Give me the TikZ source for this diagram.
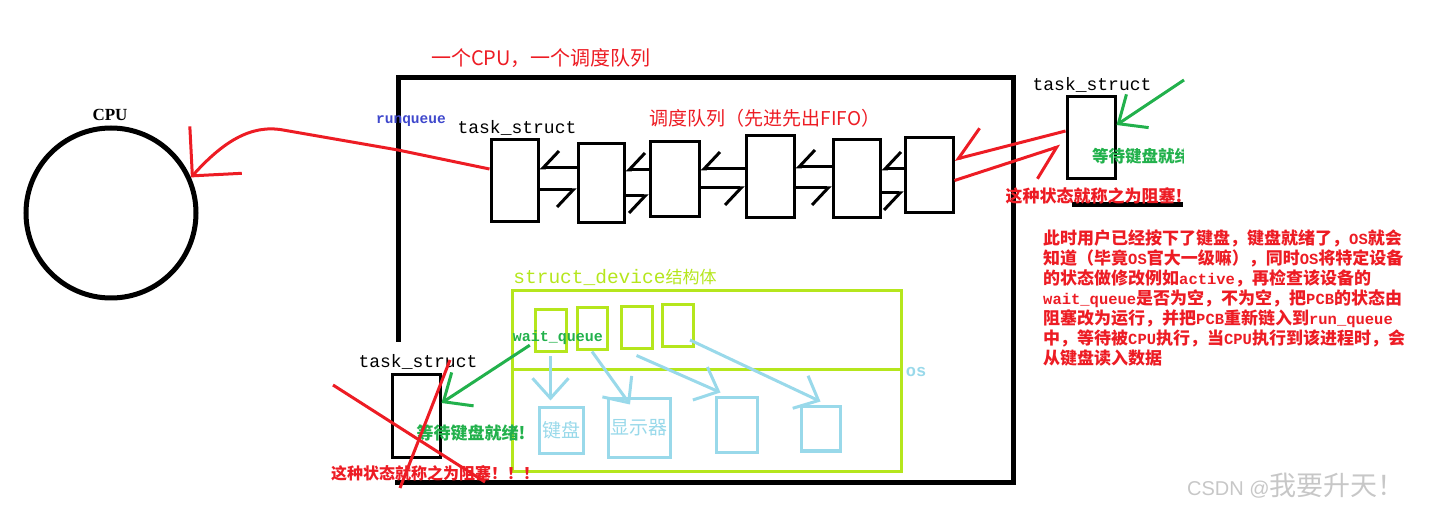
\documentclass[tikz,border=0pt]{standalone}
\usepackage{fontspec}
\setmainfont{Liberation Serif}
\setmonofont{Liberation Mono}
\newfontfamily\cjk{Noto Sans CJK SC}
\newfontfamily\wmfont{Liberation Sans}
\usetikzlibrary{arrows.meta}
\definecolor{paintred}{RGB}{237,28,36}
\definecolor{paintgreen}{RGB}{34,177,76}
\definecolor{paintblue}{RGB}{63,72,204}
\definecolor{paintlime}{RGB}{181,230,29}
\definecolor{paintcyan}{RGB}{153,217,234}
\newcommand{\lat}[1]{{\ttfamily\bfseries\fontsize{15.5}{20}\selectfont #1}}

\begin{document}
\begin{tikzpicture}[x=1pt, y=-1pt,
  task/.style={draw, line width=3pt, inner sep=0pt},
  devbox/.style={draw=paintlime, line width=3pt, inner sep=0pt},
  hwbox/.style={draw=paintcyan, line width=3pt, inner sep=0pt, text=paintcyan,
    font=\cjk\fontsize{19}{19}\selectfont},
  link/.style={line width=3pt, -{Straight Barb[harpoon,swap,length=16pt,width=34pt]}},
  redline/.style={paintred, line width=3pt},
  redhalf/.style={redline, -{Straight Barb[harpoon,swap,length=28pt,width=48pt]}},
  greenarrow/.style={paintgreen, line width=3pt, -{Straight Barb[length=23pt,width=40pt]}},
  cyanarrow/.style={paintcyan, line width=3pt, -{Straight Barb[length=20pt,width=36pt]}},
  tasklabel/.style={inner sep=0pt, font=\ttfamily\fontsize{18}{18}\selectfont}]

  \useasboundingbox (0,0) rectangle (1430,510);

  % CPU
  \node[circle, draw, line width=5pt, minimum size=170pt] (cpu) at (111,213) {};
  \node[inner sep=0pt, font=\bfseries\fontsize{17}{17}\selectfont] (cpulbl) at (110,115) {CPU};

  % one run queue per CPU
  \node[inner sep=0pt, text=paintred, font=\cjk\fontsize{20}{20}\selectfont] (title)
    at (541,58) {一个CPU，一个调度队列};
  \draw[line width=5pt] (398,342) -- (398,78) -- (1013,78) -- (1013,482) -- (395,482);
  \node[inner sep=0pt, text=paintblue, font=\ttfamily\bfseries\fontsize{14.5}{14.5}\selectfont]
    (rq) at (411,121) {runqueue};
  \node[inner sep=0pt, text=paintred, font=\cjk\fontsize{19}{19}\selectfont] (fifo)
    at (765,118) {调度队列（先进先出FIFO）};

  % queued task_structs
  \node[task, minimum width=47pt, minimum height=82pt] (q1) at (514.5,181) {};
  \node[task, minimum width=46pt, minimum height=79pt] (q2) at (601,183.5) {};
  \node[task, minimum width=49pt, minimum height=75pt] (q3) at (674.5,179.5) {};
  \node[task, minimum width=48pt, minimum height=82pt] (q4) at (770,177) {};
  \node[task, minimum width=47pt, minimum height=78pt] (q5) at (856.5,179) {};
  \node[task, minimum width=48pt, minimum height=75pt] (q6) at (929,175.5) {};
  \node[tasklabel] (q1lbl) at (517,128) {task\_struct};

  % links between neighbours
  \draw[link] (q2.west |- 0,168) -- (q1.east |- 0,168);
  \draw[link] (q1.east |- 0,190) -- (q2.west |- 0,190);
  \draw[link] (q3.west |- 0,170) -- (q2.east |- 0,170);
  \draw[link] (q2.east |- 0,196) -- (q3.west |- 0,196);
  \draw[link] (q4.west |- 0,169) -- (q3.east |- 0,169);
  \draw[link] (q3.east |- 0,188) -- (q4.west |- 0,188);
  \draw[link] (q5.west |- 0,167) -- (q4.east |- 0,167);
  \draw[link] (q4.east |- 0,188) -- (q5.west |- 0,188);
  \draw[link] (q6.west |- 0,169) -- (q5.east |- 0,169);
  \draw[link] (q5.east |- 0,193) -- (q6.west |- 0,193);

  % head of the queue goes to the CPU
  \draw[redline, -{Straight Barb[length=35pt,width=70pt]}]
    ([yshift=12pt]q1.west) -- (398,150) -- (283,130)
    .. controls (250,124) and (222,143) .. (cpu.24);

  % task waiting for the keyboard (top right)
  \node[task, minimum width=48pt, minimum height=82pt] (tr) at (1091,138) {};
  \node[tasklabel] (trlbl) at (1092,85) {task\_struct};
  \draw[line width=5pt] (1072,205) -- (1183,205);
  \draw[redhalf] ([yshift=7pt]tr.west) -- ([yshift=16pt]q6.east);
  \draw[redhalf] ([yshift=-5pt]q6.east) -- ([xshift=-5pt,yshift=-8pt]tr.west);
  \coordinate (kbtail) at (1184,80);
  \draw[greenarrow] (kbtail) -- ([yshift=13pt]tr.east);
  \begin{scope}
    \clip (1060,140) rectangle (1183,172);
    \node[anchor=west, inner sep=0pt, text=paintgreen, font=\cjk\bfseries\fontsize{16.5}{16.5}\selectfont]
      (trwait) at (1092,156) {等待键盘就绪};
  \end{scope}
  \node[inner sep=0pt, text=paintred, font=\cjk\bfseries\fontsize{17}{17}\selectfont]
    (trblock) at (1094,196) {这种状态就称之为阻塞!};

  % explanation
  \node[anchor=north west, inner sep=0pt, align=left, text=paintred,
    font=\cjk\bfseries\fontsize{17}{20}\selectfont] (note) at (1043,230)
    {此时用户已经按下了键盘，键盘就绪了，\lat{OS}就会\\
     知道（毕竟\lat{OS}官大一级嘛），同时\lat{OS}将特定设备\\
     的状态做修改例如\lat{active}，再检查该设备的\\
     \lat{wait\_queue}是否为空，不为空，把\lat{PCB}的状态由\\
     阻塞改为运行，并把\lat{PCB}重新链入到\lat{run\_queue}\\
     中，等待被\lat{CPU}执行，当\lat{CPU}执行到该进程时，会\\
     从键盘读入数据};

  % struct_device
  \node[devbox, minimum width=389pt, minimum height=180pt] (dev) at (706.5,381) {};
  \draw[paintlime, line width=3pt] (dev.west |- 0,370) -- (dev.east |- 0,370);
  \node[inner sep=0pt, text=paintlime, font=\ttfamily\fontsize{19.5}{19.5}\selectfont]
    (devlbl) at (615,277) {struct\_device{\cjk\fontsize{17}{17}\selectfont 结构体}};
  \node[inner sep=0pt, text=paintcyan, font=\ttfamily\bfseries\fontsize{17}{17}\selectfont]
    (os) at (916,372) {os};
  \node[devbox, minimum width=31pt, minimum height=42pt] (b1) at (550.5,331) {};
  \node[devbox, minimum width=30pt, minimum height=42pt] (b2) at (592,329) {};
  \node[devbox, minimum width=31pt, minimum height=42pt] (b3) at (636.5,328) {};
  \node[devbox, minimum width=31pt, minimum height=42pt] (b4) at (677.5,326) {};
  \node[inner sep=0pt, text=paintgreen, font=\ttfamily\bfseries\fontsize{15}{15}\selectfont]
    (wq) at (558,338) {wait\_queue};

  % devices
  \node[hwbox, minimum width=44pt, minimum height=45pt] (k1) at (561,430.5) {键盘};
  \node[hwbox, minimum width=62pt, minimum height=58pt] (k2) at (639,428) {显示器};
  \node[hwbox, minimum width=41pt, minimum height=54pt] (k3) at (736.5,425) {};
  \node[hwbox, minimum width=39pt, minimum height=44pt] (k4) at (820.5,429) {};
  \draw[cyanarrow, shorten <=3pt] (b1.south) -- ([yshift=6pt]b1.south |- k1.north);
  \draw[cyanarrow] (b2.south) -- ([xshift=-9pt,yshift=-7pt]k2.north);
  \draw[cyanarrow] ([yshift=-5pt]b3.south) -- ([xshift=6pt,yshift=4pt]k3.north west);
  \draw[cyanarrow] ([xshift=-4.5pt,yshift=8.5pt]b4.south east) -- ([yshift=4pt]k4.north);

  % blocked task (bottom left)
  \node[task, minimum width=48pt, minimum height=82pt] (tl) at (416,416) {};
  \node[tasklabel] (tllbl) at (418,362) {task\_struct};
  \draw[greenarrow] ([xshift=17pt]wq.south west) -- ([yshift=13pt]tl.east);
  \node[inner sep=0pt, text=paintgreen, font=\cjk\bfseries\fontsize{17}{17}\selectfont]
    (tlwait) at (471,433) {等待键盘就绪!};
  \draw[redline] (333,385) -- (485,482);
  \draw[redline] (450,360) -- (400,488);
  \node[inner sep=0pt, text=paintred, font=\cjk\bfseries\fontsize{16}{16}\selectfont]
    (tlblock) at (435,473) {这种状态就称之为阻塞！！！};

  % watermark
  \node[anchor=west, inner sep=0pt, text=black!22, font=\wmfont\fontsize{20}{20}\selectfont]
    (wm) at (1187,486) {CSDN @{\cjk\fontsize{27}{27}\selectfont 我要升天！}};

\end{tikzpicture}
\end{document}
